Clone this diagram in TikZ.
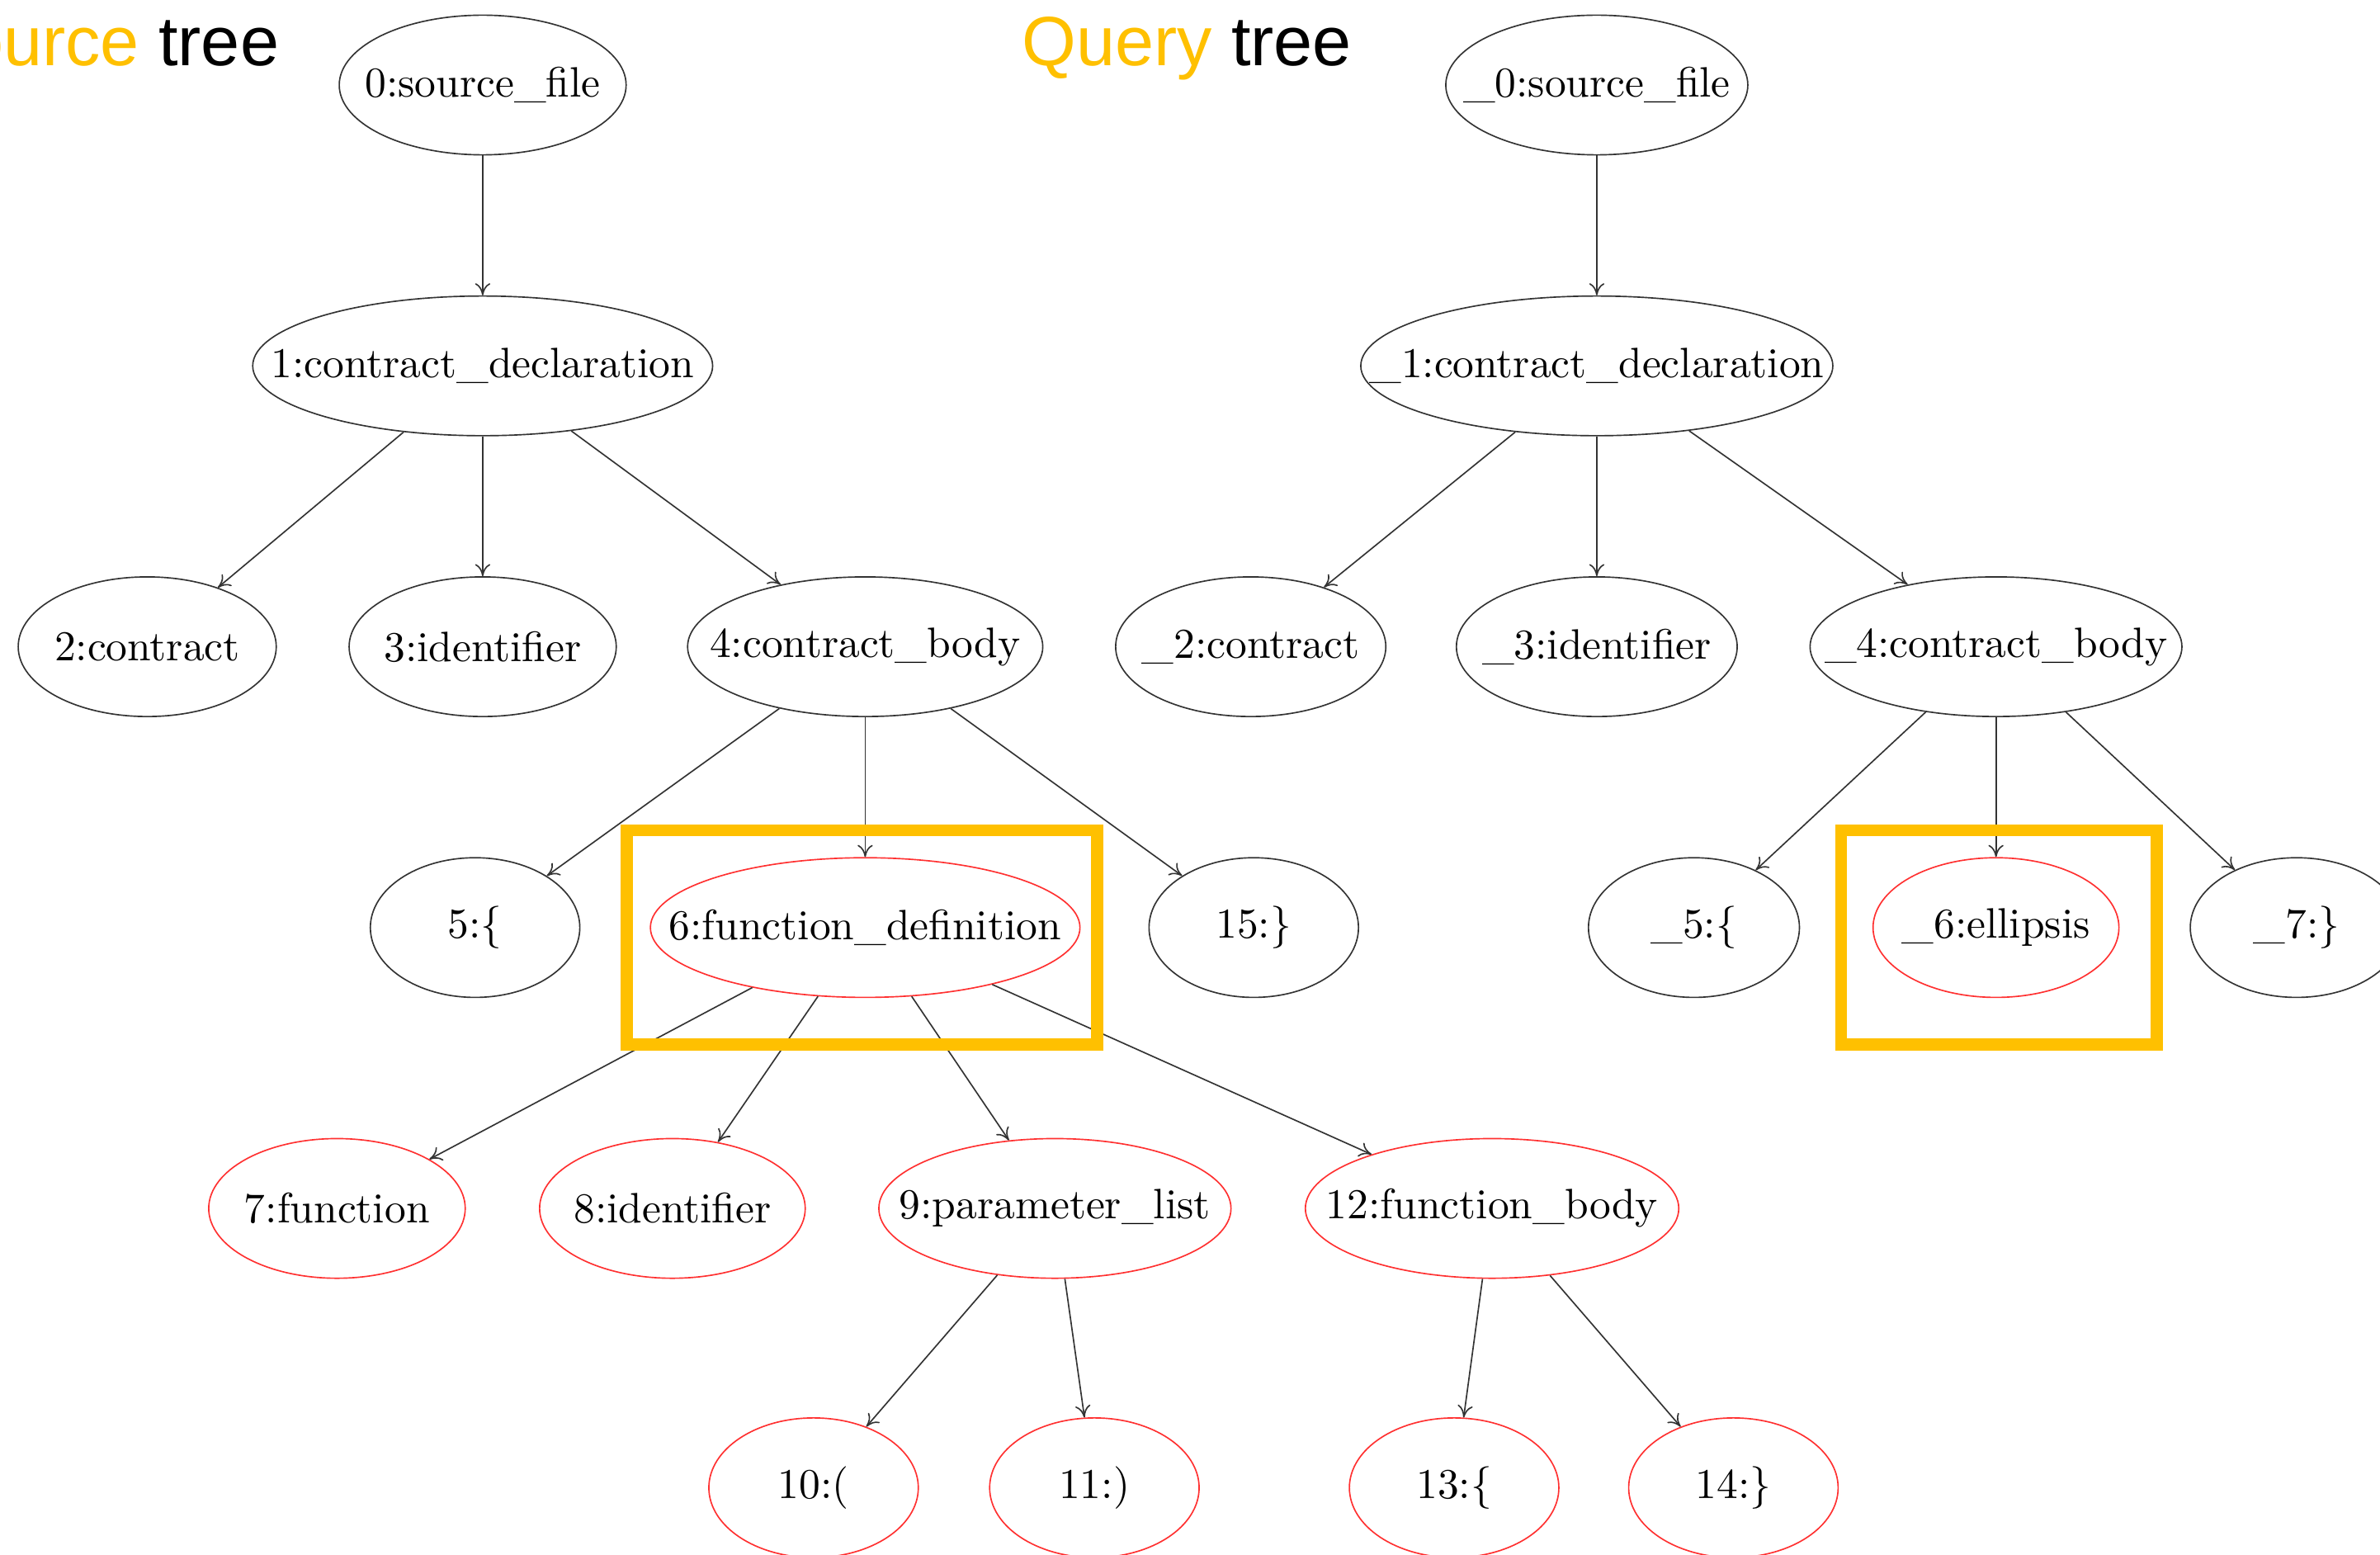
\documentclass[tikz,border=0pt]{standalone}
\usepackage{fontspec}
\newfontfamily\headfont{Liberation Sans}
\usetikzlibrary{shapes.geometric}
\usetikzlibrary{arrows.meta}

\definecolor{hlorange}{HTML}{FFC000}
\definecolor{darkline}{HTML}{333333}
\definecolor{redline}{HTML}{FF3030}

% node text: drawn at 10pt and blown up, takes no room so the ellipse width is set by hand
\newcommand{\tlab}[1]{\makebox[0pt]{\scalebox{2.8}{#1}}}

\tikzset{
  tnode/.style={ellipse, draw, line width=0.9pt, inner sep=0pt, minimum height=92pt},
  treeedge/.style={->, draw=darkline, line width=0.9pt},
  hlbox/.style={draw=hlorange, line width=8pt},
  headtext/.style={anchor=base west, inner sep=0pt, font=\headfont\fontsize{46}{52}\selectfont}
}

\begin{document}
\begin{tikzpicture}[x=1pt, y=-1pt, >={To[length=8pt,width=10pt]}]
  % page frame
  \useasboundingbox (0,0) rectangle (1568,1024);
  \clip (0,0) rectangle (1568,1024);

  % headings
  \node[headtext, anchor=base east] (srctitle) at (184,43) {\textcolor{hlorange}{Source} tree};
  \node[headtext] (qrytitle) at (673,43) {\textcolor{hlorange}{Query} tree};

  % source tree
  \foreach \n/\x/\y/\w/\col/\txt in {
      s0/318/56/189/darkline/{0:source\_file},
      s1/318/241/303/darkline/{1:contract\_declaration},
      s2/97/426/170/darkline/{2:contract},
      s3/318/426/176/darkline/{3:identifier},
      s4/570/426/234/darkline/{4:contract\_body},
      s5/313/611/138/darkline/{5:\{},
      s6/570/611/283/redline/{6:function\_definition},
      s15/826/611/138/darkline/{15:\}},
      s7/222/796/169/redline/{7:function},
      s8/443/796/175/redline/{8:identifier},
      s9/695/796/232/redline/{9:parameter\_list},
      s12/983/796/246/redline/{12:function\_body},
      s10/536/980/138/redline/{10:(},
      s11/721/980/138/redline/{11:)},
      s13/958/980/138/redline/{13:\{},
      s14/1142/980/138/redline/{14:\}}}
    \node[tnode, draw=\col, minimum width=\w] (\n) at (\x,\y) {\tlab{\txt}};

  % query tree
  \foreach \n/\x/\y/\w/\col/\txt in {
      q0/1052/56/199/darkline/{\_0:source\_file},
      q1/1052/241/311/darkline/{\_1:contract\_declaration},
      q2/824/426/178/darkline/{\_2:contract},
      q3/1052/426/185/darkline/{\_3:identifier},
      q4/1315/426/245/darkline/{\_4:contract\_body},
      q5/1116/611/139/darkline/{\_5:\{},
      q6/1315/611/162/redline/{\_6:ellipsis},
      q7/1513/611/140/darkline/{\_7:\}}}
    \node[tnode, draw=\col, minimum width=\w] (\n) at (\x,\y) {\tlab{\txt}};

  % edges
  \foreach \a/\b in {s0/s1, s1/s2, s1/s3, s1/s4, s4/s5, s4/s6, s4/s15,
      s6/s7, s6/s8, s6/s9, s6/s12, s9/s10, s9/s11, s12/s13, s12/s14,
      q0/q1, q1/q2, q1/q3, q1/q4, q4/q5, q4/q6, q4/q7}
    \draw[treeedge] (\a) -- (\b);

  % highlight boxes on top
  \draw[hlbox] (413,547) rectangle (723,688);
  \draw[hlbox] (1213,547) rectangle (1421,688);
\end{tikzpicture}
\end{document}
